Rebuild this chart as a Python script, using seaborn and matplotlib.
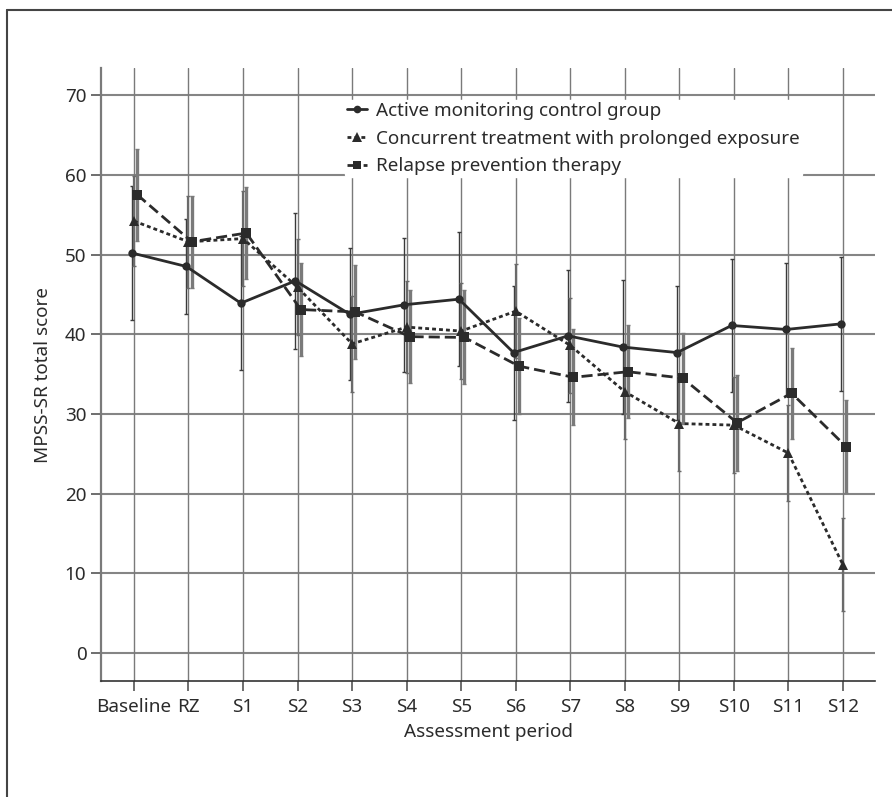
import numpy as np
import pandas as pd
import seaborn as sns
import matplotlib.pyplot as plt
from matplotlib.lines import Line2D

# === DATA ===
periods = ["Baseline", "RZ", "S1", "S2", "S3", "S4", "S5", "S6",
           "S7", "S8", "S9", "S10", "S11", "S12"]

control = [50.2, 48.5, 43.9, 46.7, 42.5, 43.7, 44.4, 37.7, 39.8, 38.4, 37.7, 41.1, 40.6, 41.3]
control_sd = [8.4, 6.0, 8.4, 8.5, 8.3, 8.4, 8.4, 8.4, 8.3, 8.4, 8.4, 8.4, 8.4, 8.4]

concurrent = [54.2, 51.6, 52.0, 45.9, 38.8, 40.9, 40.4, 42.9, 38.6, 32.8, 28.8, 28.6, 25.1, 11.1]
concurrent_sd = [5.7, 5.8, 6.0, 6.0, 6.0, 5.8, 6.0, 5.9, 6.0, 6.0, 6.0, 6.0, 6.0, 5.8]

relapse = [57.5, 51.6, 52.7, 43.1, 42.8, 39.7, 39.6, 36.0, 34.6, 35.3, 34.5, 28.9, 32.6, 25.9]
relapse_sd = [5.8, 5.8, 5.8, 5.8, 5.9, 5.8, 5.9, 6.0, 6.0, 5.8, 5.7, 6.0, 5.7, 5.8]

groups = ["Active monitoring control group",
          "Concurrent treatment with prolonged exposure",
          "Relapse prevention therapy"]

# === STYLE ===
sns.set_theme(style="white")
plt.rcParams["font.family"] = ["Noto Sans", "DejaVu Sans"]

ink = "#2b2b2b"
grid_col = "#858585"
fs = 13.6

markers = {groups[0]: "o", groups[1]: "^", groups[2]: "s"}
msizes = {groups[0]: 6, groups[1]: 7, groups[2]: 6.5}
dashes = {groups[0]: "", groups[1]: (1.4, 1.1), groups[2]: (4.0, 1.8)}
offsets = {groups[0]: -0.04, groups[1]: 0.0, groups[2]: 0.06}
bar_style = {groups[0]: ("#3a3a3a", 1.0),
             groups[1]: ("#6a6a6a", 1.6),
             groups[2]: ("#7a7a7a", 2.4)}

rows = []
for g, vals, sds in zip(groups, [control, concurrent, relapse],
                        [control_sd, concurrent_sd, relapse_sd]):
    for i, (v, s) in enumerate(zip(vals, sds)):
        rows.append({"group": g, "x": i + offsets[g], "score": v, "sd": s})
df = pd.DataFrame(rows)

fig = plt.figure(figsize=(8.92, 7.97), dpi=100)
ax = fig.add_axes([0.1132, 0.1455, 0.981 - 0.1132, 0.9147 - 0.1455])

# gridlines
for yv in range(0, 80, 10):
    ax.axhline(yv, color=grid_col, lw=1.5, zorder=0)
for i in range(len(periods)):
    ax.axvline(i, color="#7a7a7a", lw=1.0, zorder=0)

# error bars (SD)
for g in groups:
    sub = df[df["group"] == g]
    c, w = bar_style[g]
    ax.errorbar(sub["x"], sub["score"], yerr=sub["sd"], fmt="none",
                ecolor=c, elinewidth=w, capsize=1.5, capthick=1.0, zorder=2)

sns.lineplot(data=df, x="x", y="score", style="group", markers=markers,
             dashes=dashes, color=ink, linewidth=2.0, markersize=6,
             markeredgewidth=0, legend=False, ax=ax, zorder=3, sort=False)

# marker sizes per group
for line, g in zip(ax.get_lines()[-3:], groups):
    line.set_markersize(msizes[g])

ax.set_xlim(-0.605, 13.59)
ax.set_ylim(-3.5, 73.4)
ax.set_yticks(range(0, 80, 10))
ax.set_xticks(range(len(periods)))
ax.set_xticklabels(periods)
ax.set_xlabel("Assessment period", fontsize=fs, color=ink, labelpad=5)
ax.set_ylabel("MPSS-SR total score", fontsize=fs, color=ink, labelpad=9)
ax.tick_params(axis="both", labelsize=fs, labelcolor=ink, direction="out",
               length=7, width=1.2, color="#555555", bottom=True, left=True)
ax.tick_params(axis="x", pad=5)

for side in ["top", "right"]:
    ax.spines[side].set_visible(False)
ax.spines["left"].set_color("#7a7a7a")
ax.spines["left"].set_linewidth(1.6)
ax.spines["bottom"].set_color("#333333")
ax.spines["bottom"].set_linewidth(1.2)

handles = [Line2D([], [], color=ink, lw=2.0, marker=markers[g],
                  markersize=msizes[g] - 0.5, markeredgewidth=0,
                  dashes=dashes[g] if dashes[g] else (None, None))
           for g in groups]
for h, g in zip(handles, groups):
    if not dashes[g]:
        h.set_linestyle("-")
leg = ax.legend(handles, groups, loc="upper left",
                bbox_to_anchor=(0.315, 0.948), frameon=True, fontsize=fs,
                handlelength=1.1, handletextpad=0.45, labelspacing=0.52,
                borderpad=0.1, borderaxespad=0)
leg.get_frame().set_facecolor("white")
leg.get_frame().set_edgecolor("white")
leg.get_frame().set_alpha(1)
for t in leg.get_texts():
    t.set_color(ink)

# outer frame of the scanned figure (left and top edges)
fig.add_artist(Line2D([0.0078, 0.0078], [0.0, 0.9875], color="#444444", lw=1.5))
fig.add_artist(Line2D([0.0078, 1.0], [0.9875, 0.9875], color="#444444", lw=1.5))

fig.savefig("out.png", dpi=100)
